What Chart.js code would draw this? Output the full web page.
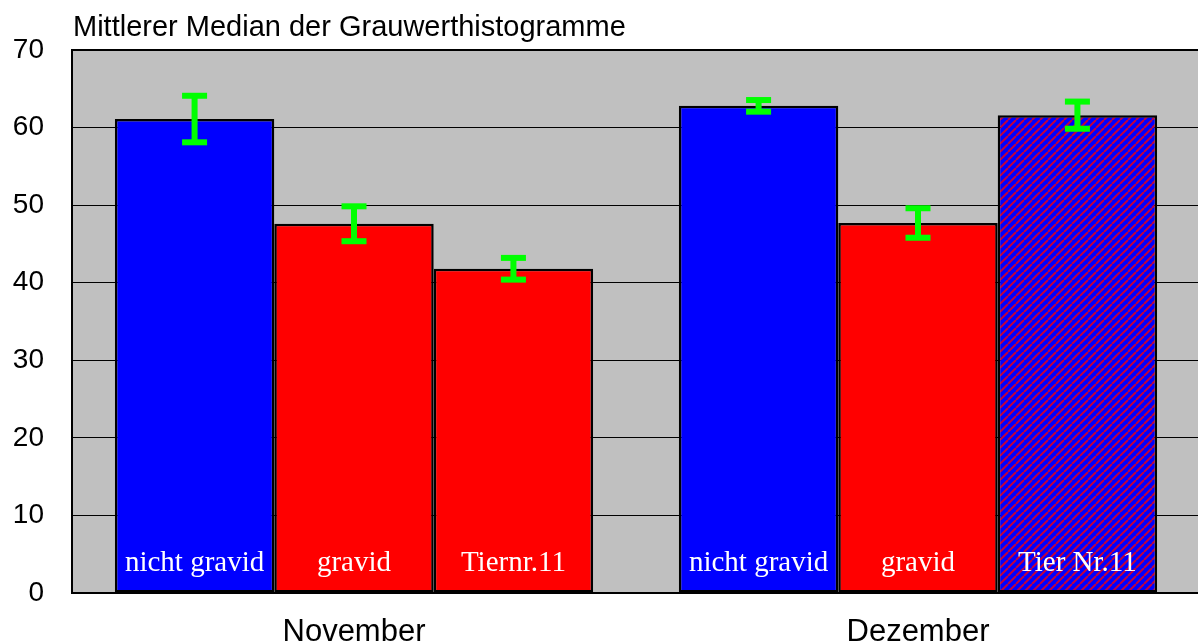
<!DOCTYPE html>
<html>
<head>
<meta charset="utf-8">
<script src="https://cdn.jsdelivr.net/npm/chart.js@4/dist/chart.umd.min.js"></script>
<style>
  html, body { margin: 0; padding: 0; background: #fff; overflow: hidden; }
  #wrap { position: relative; width: 1201px; height: 642px; }
</style>
</head>
<body>
<div id="wrap"><canvas id="c" width="1201" height="642"></canvas></div>
<script>
// Months on the x axis
const months = ['November', 'Dezember'];
// Y axis ticks
const yTicks = [0, 10, 20, 30, 40, 50, 60, 70];

// Mean median of the grey value histograms, per group
const nichtGravid = [61.1, 62.8];
const gravid = [47.6, 47.7];
const tier11 = [41.8, 61.6];

// Standard deviations (error bars)
const errNichtGravid = [3.0, 0.75];
const errGravid = [2.25, 1.9];
const errTier11 = [1.4, 1.75];

// Names written inside the bars
const namesNichtGravid = ['nicht gravid', 'nicht gravid'];
const namesGravid = ['gravid', 'gravid'];
const namesTier11 = ['Tiernr.11', 'Tier Nr.11'];

const titleText = 'Mittlerer Median der Grauwerthistogramme';

// Blue bar with red diagonal hatching
function hatchPattern() {
  const p = document.createElement('canvas');
  p.width = 8; p.height = 8;
  const g = p.getContext('2d');
  g.fillStyle = '#0000ff';
  g.fillRect(0, 0, 8, 8);
  g.strokeStyle = '#c0003f';
  g.lineWidth = 2;
  g.beginPath();
  for (let k = -8; k <= 16; k += 8) {
    g.moveTo(k, 8);
    g.lineTo(k + 8, 0);
  }
  g.stroke();
  return document.getElementById('c').getContext('2d').createPattern(p, 'repeat');
}

const plotBg = {
  id: 'plotBg',
  beforeDraw(chart) {
    const { ctx, chartArea: a } = chart;
    ctx.save();
    ctx.fillStyle = '#c0c0c0';
    ctx.fillRect(a.left, a.top, a.right - a.left, a.bottom - a.top);
    ctx.restore();
  },
  afterDraw(chart) {
    const { ctx, chartArea: a } = chart;
    ctx.save();
    ctx.strokeStyle = '#000';
    ctx.lineWidth = 2;
    ctx.strokeRect(a.left, a.top, a.right - a.left, a.bottom - a.top);
    ctx.fillStyle = '#000';
    ctx.font = '29px "Liberation Sans", Arial, sans-serif';
    ctx.textAlign = 'left';
    ctx.textBaseline = 'alphabetic';
    ctx.fillText(titleText, 73, 36);
    ctx.restore();
  }
};

const errors = [errNichtGravid, errGravid, errTier11];
const names = [namesNichtGravid, namesGravid, namesTier11];

const barExtras = {
  id: 'barExtras',
  afterDatasetsDraw(chart) {
    const { ctx } = chart;
    const y = chart.scales.y;
    ctx.save();
    chart.data.datasets.forEach((ds, di) => {
      const meta = chart.getDatasetMeta(di);
      meta.data.forEach((bar, i) => {
        // name inside bar
        ctx.fillStyle = '#fff';
        ctx.font = '29px "Liberation Serif", "Times New Roman", serif';
        ctx.textAlign = 'center';
        ctx.textBaseline = 'alphabetic';
        ctx.fillText(names[di][i], bar.x, 571);
        // error bar
        const v = ds.data[i], e = errors[di][i];
        const yt = y.getPixelForValue(v + e), yb = y.getPixelForValue(v - e);
        ctx.fillStyle = '#00ff00';
        ctx.fillRect(bar.x - 3, yt, 6, yb - yt);
        ctx.fillRect(bar.x - 12.5, yt - 3, 25, 6);
        ctx.fillRect(bar.x - 12.5, yb - 3, 25, 6);
      });
    });
    ctx.restore();
  }
};

new Chart(document.getElementById('c'), {
  type: 'bar',
  data: {
    labels: months,
    datasets: [
      { label: 'nicht gravid', data: nichtGravid, backgroundColor: '#0000ff' },
      { label: 'gravid', data: gravid, backgroundColor: '#ff0000' },
      { label: 'Tier Nr.11', data: tier11, backgroundColor: ['#ff0000', hatchPattern()] }
    ]
  },
  options: {
    responsive: false,
    animation: false,
    devicePixelRatio: 1,
    layout: { padding: { top: 50, right: 1, left: 0, bottom: 0 } },
    datasets: {
      bar: {
        borderColor: '#000',
        borderWidth: 2.5,
        borderSkipped: false,
        barPercentage: 1.0,
        categoryPercentage: 0.848
      }
    },
    plugins: {
      legend: { display: false },
      tooltip: { enabled: false },
      title: { display: false }
    },
    scales: {
      x: {
        grid: { display: false, drawTicks: false },
        border: { display: false },
        ticks: {
          color: '#000',
          padding: 21,
          font: { family: '"Liberation Sans", Arial, sans-serif', size: 31 }
        },
        afterFit(s) { s.height = 49; }
      },
      y: {
        min: 0, max: 70,
        afterBuildTicks(s) { s.ticks = yTicks.map(v => ({ value: v })); },
        grid: { color: '#000', lineWidth: 1, drawTicks: false },
        border: { display: false },
        ticks: {
          color: '#000',
          padding: 28,
          font: { family: '"Liberation Sans", Arial, sans-serif', size: 28 }
        },
        afterFit(s) { s.width = 72; }
      }
    }
  },
  plugins: [plotBg, barExtras]
});
</script>
</body>
</html>
